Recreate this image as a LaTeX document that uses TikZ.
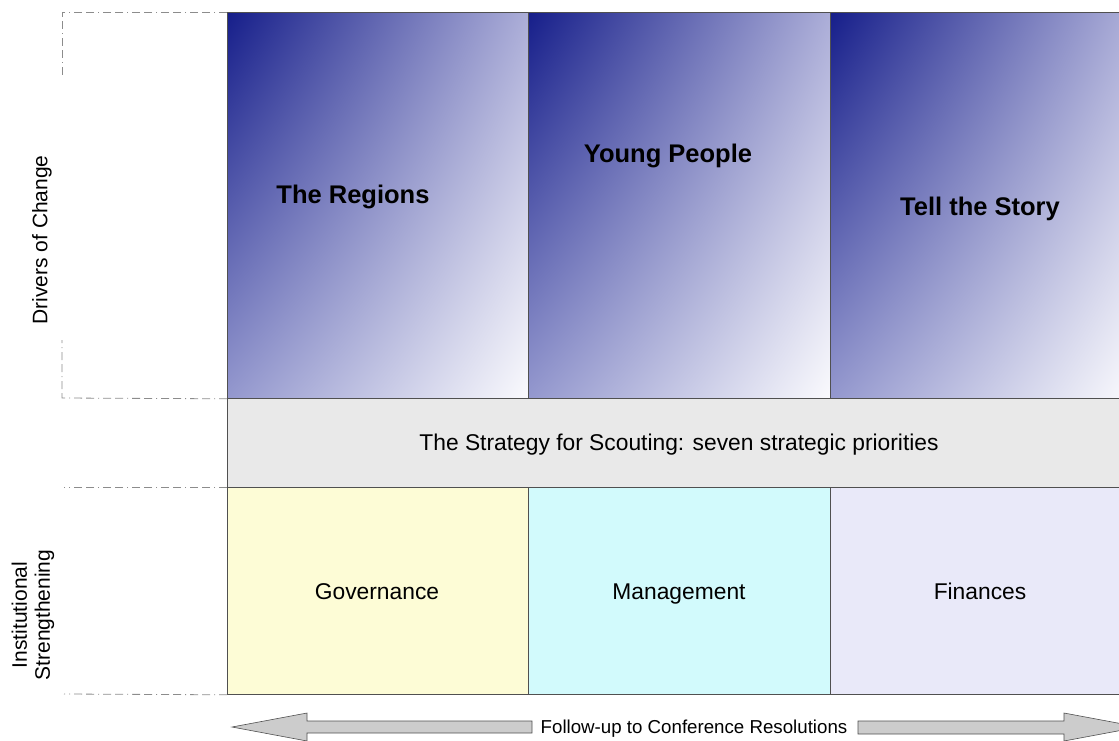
\documentclass[tikz,border=0pt]{standalone}
\usepackage{fontspec}
\setmainfont{Liberation Sans}
\usetikzlibrary{shadings}
\definecolor{dk}{RGB}{22,30,138}
\definecolor{ur}{RGB}{172,174,216}
\definecolor{ll}{RGB}{148,152,206}
\definecolor{lr}{RGB}{250,250,253}
\definecolor{edge}{RGB}{80,80,80}
\definecolor{gov}{RGB}{253,252,214}
\definecolor{mgt}{RGB}{210,250,252}
\definecolor{fin}{RGB}{233,233,249}
\definecolor{band}{RGB}{233,233,233}
\definecolor{arr}{RGB}{204,204,204}
\definecolor{guide}{RGB}{140,140,140}
\tikzset{
  driver/.style={draw=edge, line width=0.8pt, anchor=north west, minimum height=386pt, inner sep=0pt,
    upper left=dk, upper right=ur, lower left=ll, lower right=lr},
  inst/.style={draw=edge, line width=0.8pt, anchor=north west, minimum height=207pt, inner sep=0pt},
  bigtxt/.style={font=\fontsize{25.5}{28}\selectfont\bfseries, text=black, anchor=base, inner sep=0pt},
  midtxt/.style={font=\fontsize{22.8}{26}\selectfont, text=black, anchor=base, inner sep=0pt},
  sidetxt/.style={font=\fontsize{21}{23}\selectfont, rotate=90, align=center},
  guideline/.style={draw=guide, line width=0.8pt, dash pattern=on 8pt off 4pt on 1pt off 4pt on 8pt off 4pt},
  bigarrow/.style={draw=edge, fill=arr, line width=0.6pt}
}
\begin{document}
\begin{tikzpicture}[x=1pt,y=-1pt]
\useasboundingbox (0,0) rectangle (1119,740);
\clip (0,0) rectangle (1119,740);
% top drivers
\node[driver, minimum width=301pt] (r1) at (227,12) {};
\node[driver, minimum width=302pt] (r2) at (528,12) {};
\node[driver, minimum width=300pt] (r3) at (830,12) {};
% strategy band
\node[draw=edge, line width=0.8pt, fill=band, anchor=north west, minimum width=900pt, minimum height=89pt, inner sep=0pt] (band) at (227,398) {};
% institutional
\node[inst, fill=gov, minimum width=301pt] (g) at (227,487) {};
\node[inst, fill=mgt, minimum width=302pt] (m) at (528,487) {};
\node[inst, fill=fin, minimum width=300pt] (f) at (830,487) {};
% texts
\node[bigtxt] (t1) at (353,203.5) {The Regions};
\node[bigtxt] (t2) at (668,162.5) {Young People};
\node[bigtxt] (t3) at (980,215.5) {Tell the Story};
\node[midtxt] (ts) at (679,450.5) {The Strategy for Scouting: seven strategic priorities};
\node[midtxt] (tg) at (377,599.5) {Governance};
\node[midtxt] (tm) at (679,599.5) {Management};
\node[midtxt] (tf) at (980,599.5) {Finances};
\node[sidetxt] (dc) at (42,240) {Drivers of Change};
\node[sidetxt] (is) at (33,615) {Institutional\\Strengthening};
% guide lines
\coordinate (a1) at (62,12);
\coordinate (a2) at (62,398);
\draw[guideline] (r1.north west) -- (a1) -- (62,76);
\draw[guideline] (r1.south west) -- (a2) -- (62,340);
\draw[guideline] (g.north west) -- (64,487);
\draw[guideline] (g.south west) -- (64,694);
% bottom arrows
\node[font=\fontsize{18.7}{21}\selectfont, anchor=base, inner sep=0pt] (fu) at (694,733) {Follow-up to Conference Resolutions};
\draw[bigarrow] (232,727) -- (307,713) -- (307,721) -- (532,721) -- (532,733) -- (307,733) -- (307,741) -- cycle;
\draw[bigarrow] (1139,727) -- (1064,713) -- (1064,721) -- (858,721) -- (858,734) -- (1064,734) -- (1064,741) -- cycle;
\end{tikzpicture}
\end{document}
